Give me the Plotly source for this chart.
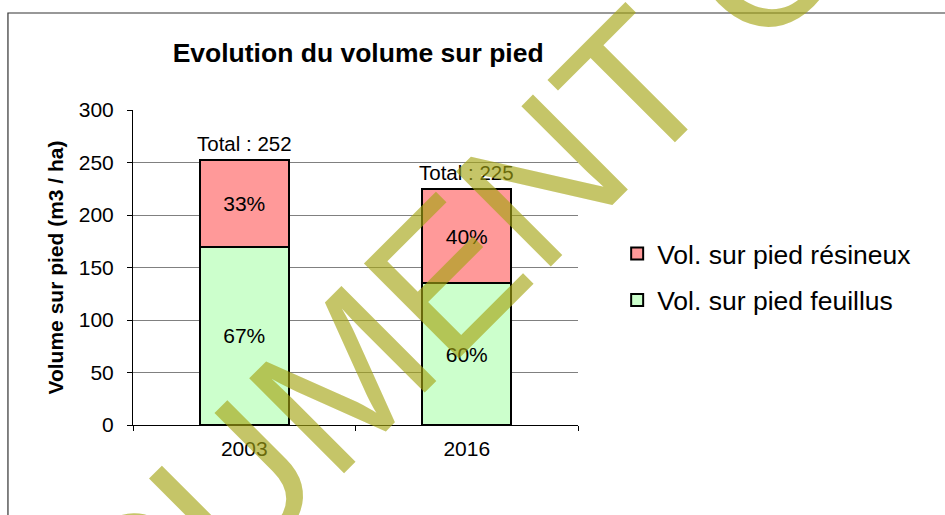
import plotly.graph_objects as go

years = ["2003", "2016"]
vol_feuillus = [170, 135]
vol_resineux = [82, 90]
series_names = ["Vol. sur pied feuillus", "Vol. sur pied résineux"]
title_text = "Evolution du volume sur pied"
y_title = "Volume sur pied (m3 / ha)"
watermark_text = "DOCUMENT CONFIDENTIEL"

totals = [a + b for a, b in zip(vol_feuillus, vol_resineux)]
pct_f = [f"{round(100 * a / t)}%" for a, t in zip(vol_feuillus, totals)]
pct_r = [f"{round(100 * b / t)}%" for b, t in zip(vol_resineux, totals)]

FONT = "Arial, Liberation Sans, sans-serif"

fig = go.Figure()
fig.add_trace(go.Bar(
    x=years, y=vol_feuillus, name=series_names[0], legendgroup="f", legendrank=2,
    marker=dict(color="#CCFFCC", line=dict(color="black", width=2)),
    text=pct_f, textposition="inside", insidetextanchor="middle",
    textfont=dict(size=21, color="black", family=FONT),
))
fig.add_trace(go.Bar(
    x=years, y=vol_resineux, name=series_names[1], legendgroup="r", legendrank=1,
    marker=dict(color="#FF9999", line=dict(color="black", width=2)),
    text=pct_r, textposition="inside", insidetextanchor="middle",
    textfont=dict(size=21, color="black", family=FONT),
))

annotations = []
for i, t in enumerate(totals):
    annotations.append(dict(
        x=i, y=t, xref="x", yref="y", text=f"Total : {t}", showarrow=False,
        yanchor="bottom", yshift=3, font=dict(size=20.5, color="black", family=FONT),
    ))

# watermark
annotations.append(dict(
    x=1.499, y=1.6, xref="paper", yref="paper", text=watermark_text,
    showarrow=False, textangle=-45, xanchor="center", yanchor="middle",
    font=dict(size=195, color="rgba(164,164,19,0.64)", family=FONT),
))

fig.update_layout(
    width=945, height=515,
    margin=dict(l=133, r=367, t=110, b=90),
    paper_bgcolor="white", plot_bgcolor="white",
    barmode="stack", bargap=0.6,
    font=dict(family=FONT, color="black"),
    title=dict(text=title_text, x=0.379, xref="container", y=0.897, yref="container",
               xanchor="center", yanchor="middle",
               font=dict(size=26.5, weight="bold", family=FONT, color="black")),
    showlegend=True,
    legend=dict(x=1.088, y=0.62, xanchor="left", yanchor="top",
                traceorder="grouped", tracegroupgap=9,
                font=dict(size=26.5, family=FONT, color="black"),
                bgcolor="rgba(0,0,0,0)"),
    xaxis=dict(type="category", range=[-0.5, 1.5], showline=True, linecolor="black", linewidth=1,
               ticks="outside", tickson="boundaries", ticklen=5, tickcolor="black",
               ticklabelstandoff=5,
               tickfont=dict(size=21, family=FONT), showgrid=False, tickangle=0),
    yaxis=dict(range=[0, 300], dtick=50, showgrid=True, gridcolor="#808080", gridwidth=1,
               showline=True, linecolor="black", linewidth=1, zeroline=False,
               ticks="outside", ticklen=5, tickcolor="black", ticklabelstandoff=9,
               tickfont=dict(size=21, family=FONT),
               title=dict(text=y_title, standoff=9,
                          font=dict(size=21, weight="bold", family=FONT))),
    annotations=annotations,
    shapes=[dict(type="rect", xref="paper", yref="paper", x0=-0.281, x1=2.0,
                 y0=-1.0, y1=1.308, line=dict(color="#333333", width=1.2),
                 fillcolor="rgba(0,0,0,0)", layer="below")],
)

fig.write_html("out.html")
